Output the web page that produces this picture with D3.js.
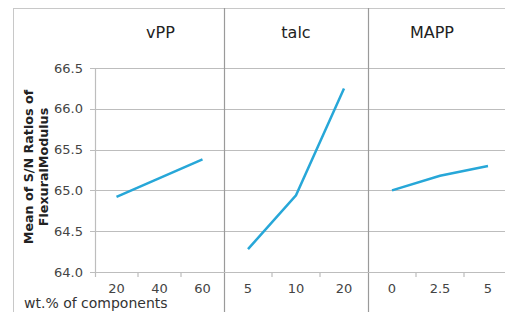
<!DOCTYPE html>
<html>
<head>
<meta charset="utf-8">
<script src="https://cdn.jsdelivr.net/npm/d3@7"></script>
<style>
  body { margin: 0; background: #fff; }
  text { font-family: "DejaVu Sans", Verdana, sans-serif; }
</style>
</head>
<body>
<svg id="chart"></svg>
<script>
// data
const groups = ["vPP", "talc", "MAPP"];
const vppLevels = ["20", "40", "60"];
const vppMeans = [64.92, 65.15, 65.38];
const talcLevels = ["5", "10", "20"];
const talcMeans = [64.28, 64.94, 66.25];
const mappLevels = ["0", "2.5", "5"];
const mappMeans = [65.0, 65.18, 65.30];
const yTicks = [64.0, 64.5, 65.0, 65.5, 66.0, 66.5];

const width = 505, height = 312;
const plotTop = 68, plotBottom = 272, plotLeft = 95;
const edges = [plotLeft, 224, 368, 512];

const svg = d3.select("#chart")
    .attr("width", width)
    .attr("height", height);

const y = d3.scaleLinear().domain([64, 66.5]).range([plotBottom, plotTop]);

// frame
svg.append("line").attr("x1", 13).attr("x2", width).attr("y1", 8.5).attr("y2", 8.5)
    .attr("stroke", "#c8c8c8");
svg.append("line").attr("x1", 13.5).attr("x2", 13.5).attr("y1", 8).attr("y2", height)
    .attr("stroke", "#c8c8c8");

// gridlines + y ticks
svg.selectAll(".grid").data(yTicks).enter().append("line")
    .attr("x1", plotLeft - 5).attr("x2", width)
    .attr("y1", d => Math.round(y(d)) + 0.5).attr("y2", d => Math.round(y(d)) + 0.5)
    .attr("stroke", "#bdbdbd").attr("stroke-width", 1.2);

svg.selectAll(".ylab").data(yTicks).enter().append("text")
    .attr("x", plotLeft - 12).attr("y", d => y(d) + 4.5)
    .attr("text-anchor", "end")
    .attr("font-size", 13).attr("fill", "#444")
    .text(d => d.toFixed(1));

// y axis line
svg.append("line").attr("x1", plotLeft + 0.5).attr("x2", plotLeft + 0.5).attr("y1", plotTop).attr("y2", plotBottom + 5)
    .attr("stroke", "#bdbdbd").attr("stroke-width", 1.2);

// y title
const yt = svg.append("text")
    .attr("transform", "translate(33,167) rotate(-90)")
    .attr("text-anchor", "middle")
    .attr("font-size", 12.7).attr("font-weight", "bold").attr("fill", "#222");
yt.append("tspan").attr("x", 0).attr("dy", 0).text("Mean of S/N Ratios of");
yt.append("tspan").attr("x", 0).attr("dy", 14.5).text("FlexuralModulus");

// panels
const panels = [
    { name: groups[0], levels: vppLevels, means: vppMeans },
    { name: groups[1], levels: talcLevels, means: talcMeans },
    { name: groups[2], levels: mappLevels, means: mappMeans }
];

const line = d3.line();

panels.forEach((p, i) => {
    const x = d3.scaleBand().domain(p.levels).range([edges[i], edges[i + 1]]);

    // header
    svg.append("text")
        .attr("x", (edges[i] + edges[i + 1]) / 2 - (i == 2 ? 8 : 0) + (i == 0 ? 1 : 0))
        .attr("y", 38)
        .attr("text-anchor", "middle")
        .attr("font-size", 16).attr("fill", "#222")
        .text(p.name);

    // divider
    if (i > 0) {
        svg.append("line").attr("x1", edges[i] + 0.5).attr("x2", edges[i] + 0.5)
            .attr("y1", 8).attr("y2", height)
            .attr("stroke", "#9a9a9a").attr("stroke-width", 1.2);
    }

    // small category ticks
    p.levels.slice(1).forEach(l => {
        svg.append("line").attr("x1", x(l)).attr("x2", x(l))
            .attr("y1", plotBottom).attr("y2", plotBottom + 5)
            .attr("stroke", "#bdbdbd").attr("stroke-width", 1.2);
    });

    // tick labels
    svg.selectAll(".xl" + i).data(p.levels).enter().append("text")
        .attr("x", d => x(d) + x.bandwidth() / 2)
        .attr("y", 293)
        .attr("text-anchor", "middle")
        .attr("font-size", 13).attr("fill", "#444")
        .text(d => d);

    // line
    svg.append("path")
        .attr("d", line(p.levels.map((l, k) => [x(l) + x.bandwidth() / 2, y(p.means[k])])))
        .attr("fill", "none")
        .attr("stroke", "#27a7d8")
        .attr("stroke-width", 2.5);
});

// bottom axis
svg.append("line").attr("x1", plotLeft).attr("x2", width).attr("y1", plotBottom + 0.5).attr("y2", plotBottom + 0.5)
    .attr("stroke", "#bdbdbd").attr("stroke-width", 1.2);

svg.append("text")
    .attr("x", 24).attr("y", 308)
    .attr("font-size", 14).attr("fill", "#333")
    .text("wt.% of components");
</script>
</body>
</html>
